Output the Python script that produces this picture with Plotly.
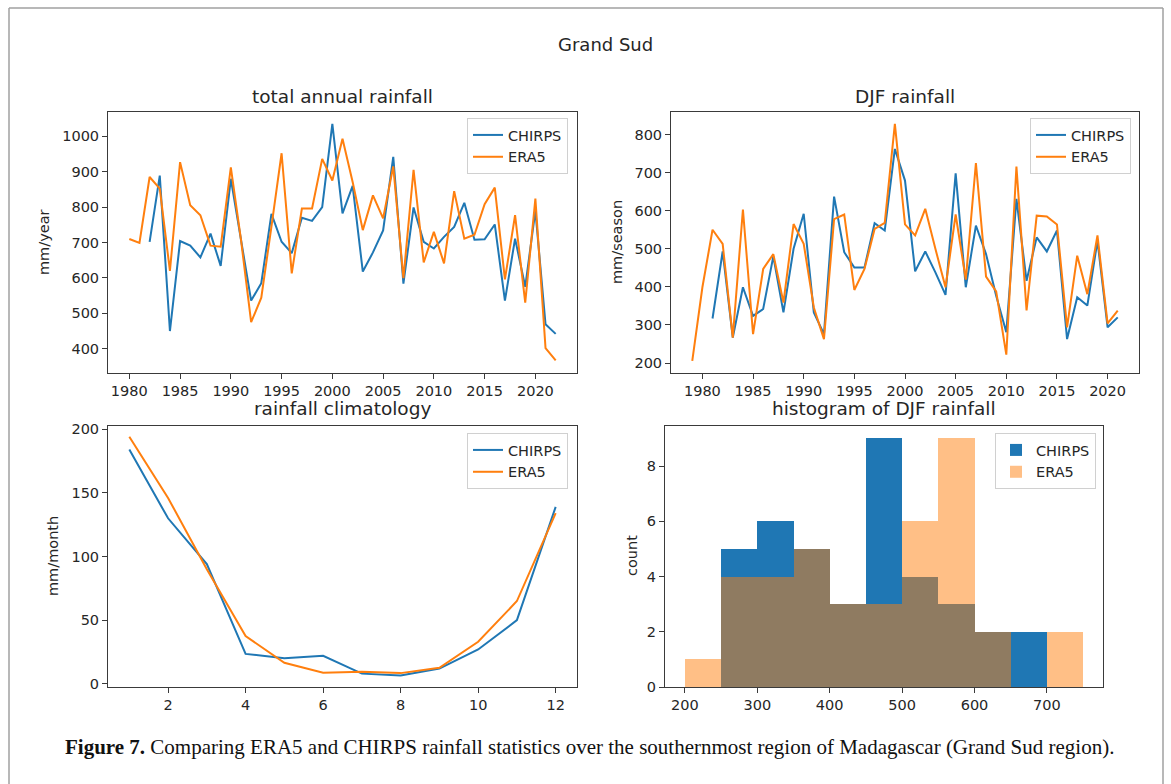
import plotly.graph_objects as go

W, H = 1171, 784

# ---- data ----
annual_years_chirps = list(range(1982, 2023))
annual_chirps = [702, 889, 450, 704, 691, 658, 725, 634, 880, 712, 536, 585, 781, 702,
                 670, 770, 761, 800, 1035, 782, 860, 618, 672, 734, 942, 584, 799, 702,
                 683, 716, 744, 812, 708, 709, 751, 536, 711, 575, 790, 469, 442]
annual_years_era5 = list(range(1980, 2023))
annual_era5 = [710, 699, 885, 852, 620, 927, 805, 777, 691, 688, 912, 708, 475, 544,
               745, 952, 613, 796, 796, 936, 875, 993, 871, 735, 833, 768, 915, 599,
               905, 644, 730, 641, 845, 711, 722, 808, 855, 596, 777, 530, 824, 402, 367]

djf_years_chirps = list(range(1981, 2022))
djf_chirps = [317, 493, 267, 399, 324, 342, 480, 333, 500, 592, 333, 276, 637, 491,
              451, 451, 567, 548, 762, 679, 441, 493, 438, 379, 698, 399, 561, 486,
              377, 281, 631, 416, 530, 493, 548, 263, 373, 351, 521, 294, 320]
djf_years_era5 = list(range(1979, 2022))
djf_era5 = [206, 399, 550, 513, 267, 603, 276, 447, 486, 359, 565, 513, 346, 263,
            578, 590, 392, 447, 552, 568, 828, 564, 535, 605, 500, 399, 590, 419,
            725, 427, 388, 222, 716, 338, 587, 585, 564, 294, 482, 381, 535, 304, 338]

months = list(range(1, 13))
clim_chirps = [184, 130, 94, 23.5, 20, 22, 8, 6.5, 12, 27, 50, 139]
clim_era5 = [194, 146, 90, 37.5, 16.5, 8.7, 9.5, 8.4, 12.6, 33, 65, 134]

hist_bin_left = [200, 250, 300, 350, 400, 450, 500, 550, 600, 650, 700]
hist_bin_width = 50
hist_chirps = [0, 5, 6, 5, 3, 9, 4, 3, 2, 2, 0]
hist_era5 = [1, 4, 4, 5, 3, 3, 6, 9, 2, 0, 2]

BLUE = "#1f77b4"
ORANGE = "#ff7f0e"
INK = "#262626"
FRAME = "#3a3a3a"


def px_x(v):
    return v / W


def px_y(v):
    return 1 - v / H


def dom_x(a, b):
    return [px_x(a), px_x(b)]


def dom_y(top, bottom):
    return [px_y(bottom), px_y(top)]


fig = go.Figure()

# panel 1: total annual rainfall
fig.add_trace(go.Scatter(x=annual_years_chirps, y=annual_chirps, mode="lines", name="CHIRPS",
                         line=dict(color=BLUE, width=2), xaxis="x", yaxis="y", legend="legend"))
fig.add_trace(go.Scatter(x=annual_years_era5, y=annual_era5, mode="lines", name="ERA5",
                         line=dict(color=ORANGE, width=2), xaxis="x", yaxis="y", legend="legend"))

# panel 2: DJF rainfall
fig.add_trace(go.Scatter(x=djf_years_chirps, y=djf_chirps, mode="lines", name="CHIRPS",
                         line=dict(color=BLUE, width=2), xaxis="x2", yaxis="y2", legend="legend2"))
fig.add_trace(go.Scatter(x=djf_years_era5, y=djf_era5, mode="lines", name="ERA5",
                         line=dict(color=ORANGE, width=2), xaxis="x2", yaxis="y2", legend="legend2"))

# panel 3: climatology
fig.add_trace(go.Scatter(x=months, y=clim_chirps, mode="lines", name="CHIRPS",
                         line=dict(color=BLUE, width=2), xaxis="x3", yaxis="y3", legend="legend3"))
fig.add_trace(go.Scatter(x=months, y=clim_era5, mode="lines", name="ERA5",
                         line=dict(color=ORANGE, width=2), xaxis="x3", yaxis="y3", legend="legend3"))

# panel 4: histogram of DJF rainfall
centers = [b + hist_bin_width / 2 for b in hist_bin_left]
fig.add_trace(go.Bar(x=centers, y=hist_chirps, width=hist_bin_width, name="CHIRPS",
                     marker=dict(color=BLUE, line=dict(width=0)),
                     xaxis="x4", yaxis="y4", legend="legend4"))
fig.add_trace(go.Bar(x=centers, y=hist_era5, width=hist_bin_width, name="ERA5",
                     marker=dict(color="rgba(255,127,14,0.5)", line=dict(width=0)),
                     xaxis="x4", yaxis="y4", legend="legend4"))

axis_common = dict(showline=True, linecolor=FRAME, linewidth=1, mirror=True,
                   ticks="outside", ticklen=5, tickwidth=1, tickcolor=FRAME,
                   showgrid=False, zeroline=False, automargin=False,
                   tickfont=dict(family="DejaVu Sans", size=14.5, color=INK))

layout = dict(
    width=W, height=H,
    margin=dict(l=0, r=0, t=0, b=0),
    paper_bgcolor="white", plot_bgcolor="white",
    barmode="overlay", bargap=0,
    xaxis=dict(domain=dom_x(108, 577), range=[1977.9, 2024.1], tickvals=list(range(1980, 2021, 5)),
               anchor="y", **axis_common),
    yaxis=dict(domain=dom_y(112, 373), range=[331.5, 1068.5], tickvals=list(range(400, 1001, 100)),
               anchor="x", **axis_common),
    xaxis2=dict(domain=dom_x(671, 1139), range=[1976.9, 2023.1], tickvals=list(range(1980, 2021, 5)),
                anchor="y2", **axis_common),
    yaxis2=dict(domain=dom_y(112, 373), range=[174, 859], tickvals=list(range(200, 801, 100)),
                anchor="x2", **axis_common),
    xaxis3=dict(domain=dom_x(108, 577), range=[0.45, 12.55], tickvals=list(range(2, 13, 2)),
                anchor="y3", **axis_common),
    yaxis3=dict(domain=dom_y(426, 687), range=[-2.5, 202.5], tickvals=list(range(0, 201, 50)),
                anchor="x3", **axis_common),
    xaxis4=dict(domain=dom_x(665, 1103), range=[172.5, 777.5], tickvals=list(range(200, 701, 100)),
                anchor="y4", **axis_common),
    yaxis4=dict(domain=dom_y(426, 687), range=[0, 9.45], tickvals=[0, 2, 4, 6, 8],
                anchor="x4", **axis_common),
)

legend_style = dict(bgcolor="rgba(255,255,255,0.9)", bordercolor="#d0d0d0", borderwidth=1,
                    font=dict(family="DejaVu Sans", size=14.5, color=INK),
                    xanchor="right", yanchor="top", itemwidth=30, tracegroupgap=0)
layout["legend"] = dict(x=px_x(568), y=px_y(118), **legend_style)
layout["legend2"] = dict(x=px_x(1131), y=px_y(118), **legend_style)
layout["legend3"] = dict(x=px_x(568), y=px_y(433), **legend_style)
layout["legend4"] = dict(x=px_x(1096), y=px_y(433), **legend_style)

fig.update_layout(**layout)

annotations = []


def text(x, y, s, size=14.5, angle=0, family="DejaVu Sans", color=INK):
    annotations.append(dict(x=px_x(x), y=px_y(y), xref="paper", yref="paper", text=s,
                            showarrow=False, xanchor="center", yanchor="middle",
                            textangle=angle, font=dict(family=family, size=size, color=color)))


# figure title and subplot titles
text(605, 44, "Grand Sud", size=18)
text(342.5, 96, "total annual rainfall", size=18.5)
text(905, 96, "DJF rainfall", size=18.5)
text(342.5, 408, "rainfall climatology", size=18.5)
text(884, 408, "histogram of DJF rainfall", size=18.5)

# axis labels
text(44, 242, "mm/year", angle=-90)
text(617, 242, "mm/season", angle=-90)
text(53, 556, "mm/month", angle=-90)
text(632, 556, "count", angle=-90)

# caption
text(589, 747, "<b>Figure 7.</b> Comparing ERA5 and CHIRPS rainfall statistics over the southernmost "
               "region of Madagascar (Grand Sud region).",
     size=21, family="Liberation Serif", color="#111111")

fig.update_layout(annotations=annotations)

# page frame
for x0, y0, x1, y1 in [(9, 8, 1163, 8), (9, 8, 9, 784), (1163, 8, 1163, 784)]:
    fig.add_shape(type="line", xref="paper", yref="paper",
                  x0=px_x(x0), y0=px_y(y0), x1=px_x(x1), y1=px_y(y1),
                  line=dict(color="#a0a0a0", width=1.5))

fig.write_html("out.html")
